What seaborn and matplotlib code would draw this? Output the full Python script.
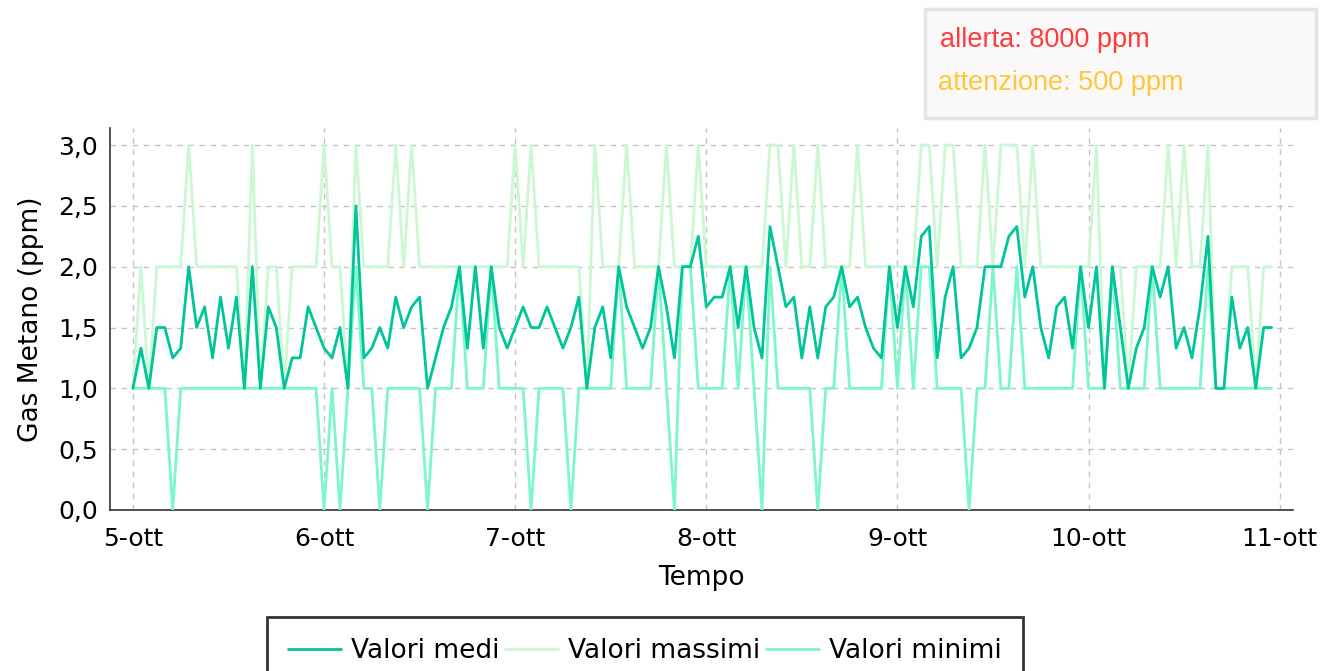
import numpy as np
import pandas as pd
import matplotlib
matplotlib.use("Agg")
import matplotlib.pyplot as plt
from matplotlib.patches import Rectangle
from matplotlib.ticker import FuncFormatter
import seaborn as sns

# hourly readings, 5-ott 00:00 .. 10-ott 23:00
VALORI_MEDI = [
    1.0, 1.33, 1.0, 1.5, 1.5, 1.25, 1.33, 2.0, 1.5, 1.67, 1.25, 1.75,
    1.33, 1.75, 1.0, 2.0, 1.0, 1.67, 1.5, 1.0, 1.25, 1.25, 1.67, 1.5,
    1.33, 1.25, 1.5, 1.0, 2.5, 1.25, 1.33, 1.5, 1.33, 1.75, 1.5, 1.67,
    1.75, 1.0, 1.25, 1.5, 1.67, 2.0, 1.33, 2.0, 1.33, 2.0, 1.5, 1.33,
    1.5, 1.67, 1.5, 1.5, 1.67, 1.5, 1.33, 1.5, 1.75, 1.0, 1.5, 1.67,
    1.25, 2.0, 1.67, 1.5, 1.33, 1.5, 2.0, 1.67, 1.25, 2.0, 2.0, 2.25,
    1.67, 1.75, 1.75, 2.0, 1.5, 2.0, 1.5, 1.25, 2.33, 2.0, 1.67, 1.75,
    1.25, 1.67, 1.25, 1.67, 1.75, 2.0, 1.67, 1.75, 1.5, 1.33, 1.25, 2.0,
    1.5, 2.0, 1.67, 2.25, 2.33, 1.25, 1.75, 2.0, 1.25, 1.33, 1.5, 2.0,
    2.0, 2.0, 2.25, 2.33, 1.75, 2.0, 1.5, 1.25, 1.67, 1.75, 1.33, 2.0,
    1.5, 2.0, 1.0, 2.0, 1.5, 1.0, 1.33, 1.5, 2.0, 1.75, 2.0, 1.33,
    1.5, 1.25, 1.67, 2.25, 1.0, 1.0, 1.75, 1.33, 1.5, 1.0, 1.5, 1.5,
]
VALORI_MASSIMI = [
    1, 2, 1, 2, 2, 2, 2, 3, 2, 2, 2, 2,
    2, 2, 1, 3, 1, 2, 2, 1, 2, 2, 2, 2,
    3, 2, 2, 1, 3, 2, 2, 2, 2, 3, 2, 3,
    2, 2, 2, 2, 2, 2, 2, 2, 2, 2, 2, 2,
    3, 2, 3, 2, 2, 2, 2, 2, 2, 1, 3, 2,
    2, 2, 3, 2, 2, 2, 2, 3, 2, 2, 2, 3,
    2, 2, 2, 2, 2, 2, 2, 2, 3, 3, 2, 3,
    2, 2, 3, 2, 2, 2, 2, 3, 2, 2, 2, 2,
    2, 2, 2, 3, 3, 2, 3, 3, 2, 2, 2, 3,
    2, 3, 3, 3, 2, 3, 2, 2, 2, 2, 2, 2,
    2, 3, 1, 2, 2, 1, 2, 2, 2, 2, 3, 2,
    3, 2, 2, 3, 1, 1, 2, 2, 2, 1, 2, 2,
]
VALORI_MINIMI = [
    1, 1, 1, 1, 1, 0, 1, 1, 1, 1, 1, 1,
    1, 1, 1, 1, 1, 1, 1, 1, 1, 1, 1, 1,
    0, 1, 0, 1, 2, 1, 1, 0, 1, 1, 1, 1,
    1, 0, 1, 1, 1, 2, 1, 1, 1, 2, 1, 1,
    1, 1, 0, 1, 1, 1, 1, 0, 1, 1, 1, 1,
    1, 2, 1, 1, 1, 1, 2, 1, 0, 2, 2, 1,
    1, 1, 1, 2, 1, 2, 1, 0, 2, 1, 1, 1,
    1, 1, 0, 1, 1, 2, 1, 1, 1, 1, 1, 2,
    1, 2, 1, 2, 2, 1, 1, 1, 1, 0, 1, 1,
    2, 1, 1, 2, 1, 1, 1, 1, 1, 1, 1, 2,
    1, 1, 1, 2, 1, 1, 1, 1, 2, 1, 1, 1,
    1, 1, 1, 2, 1, 1, 1, 1, 1, 1, 1, 1,
]
GIORNI = ["5-ott", "6-ott", "7-ott", "8-ott", "9-ott", "10-ott", "11-ott"]
SOGLIE = ["allerta: 8000 ppm", "attenzione: 500 ppm"]

times = pd.date_range("2020-10-05 00:00", periods=len(VALORI_MEDI), freq="h")
df = pd.DataFrame({"Tempo": times, "medi": VALORI_MEDI,
                   "massimi": VALORI_MASSIMI, "minimi": VALORI_MINIMI})

sns.set_theme(style="white")
plt.rcParams["font.family"] = ["DejaVu Sans"]

W, H = 1333, 671
fig = plt.figure(figsize=(W / 100, H / 100), dpi=100)
ax = fig.add_axes([110 / W, 1 - 510 / H, (1293 - 110) / W, (510 - 128) / H])

sns.lineplot(data=df, x="Tempo", y="medi", ax=ax, color="#00C49A",
             linewidth=2, label="Valori medi", zorder=4)
sns.lineplot(data=df, x="Tempo", y="massimi", ax=ax, color="#CCF7D3",
             linewidth=2, label="Valori massimi", zorder=2)
sns.lineplot(data=df, x="Tempo", y="minimi", ax=ax, color="#7DF7C9",
             linewidth=2, label="Valori minimi", zorder=3)

start = times[0]
ax.set_xlim(start - pd.Timedelta(days=0.12), start + pd.Timedelta(days=6.07))
ax.set_ylim(0, 3.14)
day_ticks = [start + pd.Timedelta(days=i) for i in range(len(GIORNI))]
ax.set_xticks(day_ticks)
ax.set_xticklabels(GIORNI)
ax.set_yticks([0, 0.5, 1, 1.5, 2, 2.5, 3])
ax.yaxis.set_major_formatter(FuncFormatter(lambda v, p: f"{v:.1f}".replace(".", ",")))

ax.grid(True, linestyle=(0, (4, 4)), color="#c4c4c4", linewidth=1)
ax.set_axisbelow(True)
for s in ["top", "right"]:
    ax.spines[s].set_visible(False)
for s in ["left", "bottom"]:
    ax.spines[s].set_color("#333333")
    ax.spines[s].set_linewidth(1.2)
ax.tick_params(axis="both", direction="out", length=5, width=1,
               color="#333333", labelsize=18, labelcolor="black")
ax.tick_params(axis="x", pad=7)
ax.set_xlabel("Tempo", fontsize=19, labelpad=10, color="black")
ax.set_ylabel("Gas Metano (ppm)", fontsize=19, labelpad=10, color="black")

handles, labels = ax.get_legend_handles_labels()
ax.get_legend().remove()
leg = fig.legend(handles, labels, loc="upper center",
                 bbox_to_anchor=(645 / W, 1 - 617 / H), ncol=3,
                 frameon=True, fancybox=False, fontsize=19,
                 handlelength=2.0, handletextpad=0.4,
                 columnspacing=0.2, borderpad=0.8, borderaxespad=0)
leg.get_frame().set_linewidth(2)
leg.get_frame().set_edgecolor("black")
for t in leg.get_texts():
    t.set_color("black")

# threshold box top right
fig.patches.append(Rectangle((925 / W, 1 - 118 / H), 391 / W, 109 / H,
                             transform=fig.transFigure, facecolor="#FBF8F9",
                             edgecolor="#E4E4E4", linewidth=2.5))
fig.text(940 / W, 1 - 40 / H, SOGLIE[0], color="#FF3B3B", fontsize=19.5,
         family="Liberation Sans", va="center")
fig.text(938 / W, 1 - 83 / H, SOGLIE[1], color="#FFC83A", fontsize=19.5,
         family="Liberation Sans", va="center")

fig.savefig("out.png", dpi=100)
